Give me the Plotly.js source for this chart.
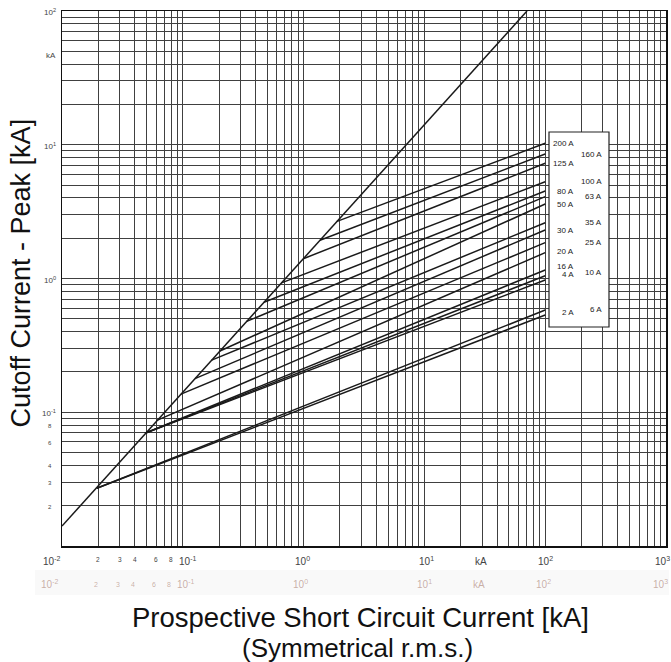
<!DOCTYPE html>
<html>
<head>
<meta charset="utf-8">
<script src="https://cdn.plot.ly/plotly-3.0.1.min.js"></script>
<style>html,body{margin:0;padding:0;background:#fff;}#chart{width:671px;height:662px;}</style>
</head>
<body>
<div id="chart"></div>
<script>
// ---- data ----
const fuseRatings = ['200 A','160 A','125 A','100 A','80 A','63 A','50 A','35 A','30 A','25 A','20 A','16 A','10 A','4 A','6 A','2 A'];
// point on the peak line where current limitation starts (kA prospective, kA peak)
const startX = [1.89, 1.367, 0.994, 0.656, 0.470, 0.338, 0.203, 0.1734, 0.126, 0.0966, 0.0617, 0.0486, 0.0486, 0.0486, 0.0194, 0.0194];
const startY = [2.673, 1.933, 1.406, 0.928, 0.665, 0.478, 0.2873, 0.2453, 0.1784, 0.1367, 0.0873, 0.0697, 0.0697, 0.0697, 0.0270, 0.0270];
// cutoff current at 100 kA prospective
const endX = 100;
const endY = [10.25, 8.53, 7.27, 5.29, 4.51, 4.09, 3.606, 2.614, 2.305, 1.853, 1.56, 1.158, 1.049, 0.974, 0.581, 0.533];
// maximum peak (unlimited) line
const peakLineX = [0.01, 70.7];
const peakLineY = [0.0141, 100];

const xTickLabels = [
  {v: 0.01, t: '10<sup>-2</sup>', big: true, dx: -11},
  {v: 0.02, t: '2'}, {v: 0.03, t: '3'}, {v: 0.04, t: '4'}, {v: 0.06, t: '6'}, {v: 0.08, t: '8'},
  {v: 0.1, t: '10<sup>-1</sup>', big: true, dx: 5},
  {v: 1, t: '10<sup>0</sup>', big: true, dx: -1},
  {v: 10, t: '10<sup>1</sup>', big: true, dx: 2},
  {v: 29.5, t: 'kA', big: true, dx: 0},
  {v: 100, t: '10<sup>2</sup>', big: true, dx: 0},
  {v: 1000, t: '10<sup>3</sup>', big: true, dx: -4}
];
const yTickLabels = [
  {v: 100, t: '10<sup>2</sup>'}, {v: 46.9, t: 'kA'}, {v: 10, t: '10<sup>1</sup>'},
  {v: 1, t: '10<sup>0</sup>'}, {v: 0.1, t: '10<sup>-1</sup>'},
  {v: 0.08, t: '8', small: true}, {v: 0.06, t: '6', small: true}, {v: 0.04, t: '4', small: true},
  {v: 0.03, t: '3', small: true}, {v: 0.02, t: '2', small: true}
];
// label box entries: [rating, y value]
const labelLeft = [['200 A', 10.25], ['125 A', 7.27], ['80 A', 4.45], ['50 A', 3.55], ['30 A', 2.30], ['20 A', 1.58], ['16 A', 1.22], ['4 A', 1.07], ['2 A', 0.56]];
const labelRight = [['160 A', 8.45], ['100 A', 5.29], ['63 A', 4.12], ['35 A', 2.62], ['25 A', 1.86], ['10 A', 1.11], ['6 A', 0.585]];

// grid values 1..9 per decade
const gridX = [], gridY = [];
for (let e = -2; e <= 3; e++) for (let m = 1; m <= 9; m++) { const v = m * Math.pow(10, e); if (v <= 1000.0001) gridX.push(v); }
for (let e = -2; e <= 2; e++) for (let m = 1; m <= 9; m++) { const v = m * Math.pow(10, e); if (v <= 100.0001) gridY.push(v); }

const FONT = 'Liberation Sans, Arial, Helvetica, sans-serif';
const traces = [];
traces.push({x: peakLineX, y: peakLineY, mode: 'lines', line: {color: '#1a1a1a', width: 1.5}, hoverinfo: 'skip', showlegend: false});
fuseRatings.forEach((r, i) => {
  traces.push({x: [startX[i], endX], y: [startY[i], endY[i]], mode: 'lines', name: r,
    line: {color: '#1a1a1a', width: 1.5}, showlegend: false});
});

const ann = [];
const lg = Math.log10;
xTickLabels.forEach(o => {
  ann.push({x: lg(o.v), y: 0, xref: 'x', yref: 'paper', text: o.t, showarrow: false,
    xanchor: 'center', yanchor: 'middle', xshift: o.dx || 0, yshift: o.big ? -15 : -13,
    font: {family: FONT, size: o.big ? 10 : 6.5, color: '#444'}});
  // faint ghost copy (scan artefact) below the tick labels
  ann.push({x: lg(o.v), y: 0, xref: 'x', yref: 'paper', text: o.t, showarrow: false,
    xanchor: 'center', yanchor: 'middle', xshift: (o.dx || 0) - 2, yshift: -38,
    font: {family: FONT, size: o.big ? 10 : 7, color: 'rgba(140,80,60,0.45)'}});
});
yTickLabels.forEach(o => {
  ann.push({x: 0, y: lg(o.v), xref: 'paper', yref: 'y', text: o.t, showarrow: false,
    xanchor: o.small ? 'center' : 'right', yanchor: 'middle', xshift: o.small ? -12 : -4, yshift: -1,
    font: {family: FONT, size: o.small ? 6 : 8, color: '#444'}});
});
labelLeft.forEach(o => {
  ann.push({x: 0, y: lg(o[1]), xref: 'paper', yref: 'y', text: o[0], showarrow: false,
    xanchor: 'right', yanchor: 'middle', xshift: 576 - 62,
    font: {family: FONT, size: 8, color: '#222'}});
});
labelRight.forEach(o => {
  ann.push({x: 0, y: lg(o[1]), xref: 'paper', yref: 'y', text: o[0], showarrow: false,
    xanchor: 'right', yanchor: 'middle', xshift: 604 - 62,
    font: {family: FONT, size: 8, color: '#222'}});
});
ann.push({x: 0, y: 0.5, xref: 'paper', yref: 'paper', text: 'Cutoff Current - Peak [kA]', showarrow: false,
  textangle: -90, xanchor: 'center', yanchor: 'middle', xshift: -42, yshift: 5,
  font: {family: FONT, size: 27, color: '#111'}});
ann.push({x: 0.494, y: 0, xref: 'paper', yref: 'paper', text: 'Prospective Short Circuit Current [kA]', showarrow: false,
  xanchor: 'center', yanchor: 'middle', yshift: -71, font: {family: FONT, size: 27.5, color: '#111'}});
ann.push({x: 0.49, y: 0, xref: 'paper', yref: 'paper', text: '(Symmetrical r.m.s.)', showarrow: false,
  xanchor: 'center', yanchor: 'middle', yshift: -102, font: {family: FONT, size: 26, color: '#111'}});

const layout = {
  width: 671, height: 662,
  margin: {l: 62, r: 5, t: 11, b: 116, pad: 0},
  paper_bgcolor: '#fff', plot_bgcolor: '#fff',
  showlegend: false,
  xaxis: {type: 'log', range: [-2, 3], tickvals: gridX, ticktext: gridX.map(() => ''), ticks: '',
    showgrid: true, gridcolor: '#404040', gridwidth: 1, zeroline: false,
    showline: true, linecolor: '#111', linewidth: 1.5, mirror: true, showticklabels: false, fixedrange: true},
  yaxis: {type: 'log', range: [-2, 2], tickvals: gridY, ticktext: gridY.map(() => ''), ticks: '',
    showgrid: true, gridcolor: '#404040', gridwidth: 1, zeroline: false,
    showline: true, linecolor: '#111', linewidth: 1.5, mirror: true, showticklabels: false, fixedrange: true},
  shapes: [
    {type: 'rect', xref: 'paper', yref: 'paper', x0: -27/604, x1: 1.005, y0: -24/535, y1: -49/535,
      fillcolor: 'rgba(0,0,0,0.025)', line: {width: 0}, layer: 'below'},
    {type: 'rect', xref: 'paper', yref: 'paper', x0: (549 - 62) / 604, x1: (609 - 62) / 604,
      y0: (546 - 327) / 535, y1: (546 - 132) / 535, fillcolor: '#fff', line: {color: '#222', width: 1.2}, layer: 'above'}
  ],
  annotations: ann
};

Plotly.newPlot('chart', traces, layout, {displayModeBar: false, staticPlot: true});
</script>
</body>
</html>
